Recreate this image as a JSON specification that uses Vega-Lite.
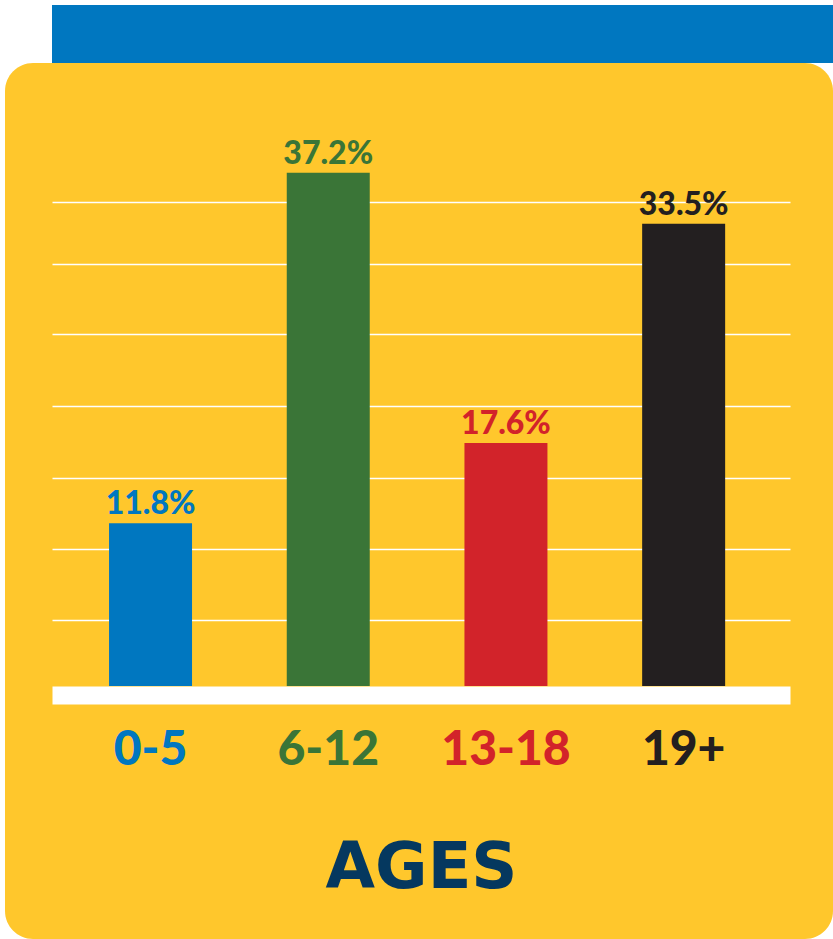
{
  "$schema": "https://vega.github.io/schema/vega-lite/v6.json",
  "autosize": "none",
  "width": 828,
  "height": 876,
  "padding": {"left": 5, "top": 63, "right": 0, "bottom": 0},
  "background": "white",
  "data": {
    "values": [
      {"age": "0-5", "share": 0.118},
      {"age": "6-12", "share": 0.372},
      {"age": "13-18", "share": 0.176},
      {"age": "19+", "share": 0.335}
    ]
  },
  "layer": [
    {
      "mark": {"type": "bar"},
      "encoding": {
        "x": {
          "field": "age",
          "type": "nominal",
          "sort": null,
          "scale": {"range": [47, 785], "paddingInner": 0.533, "paddingOuter": 0.343, "align": 0.468},
          "axis": {
            "orient": "bottom",
            "offset": -244,
            "domain": true,
            "domainColor": "white",
            "domainWidth": 18,
            "domainCap": "butt",
            "ticks": false,
            "tickSize": 0,
            "grid": false,
            "labelAngle": 0,
            "labelPadding": 31,
            "labelFont": "Lato",
            "labelFontSize": 48,
            "labelFontWeight": 900,
            "labelColor": {
              "condition": [
                {"test": "datum.value === '0-5'", "value": "#0077c0"},
                {"test": "datum.value === '6-12'", "value": "#3a7537"},
                {"test": "datum.value === '13-18'", "value": "#d2232a"}
              ],
              "value": "#231f20"
            },
            "title": "AGES",
            "titleFont": "DejaVu Sans",
            "titleFontSize": 64,
            "titleFontWeight": "bold",
            "titleColor": "#05385f",
            "titlePadding": 62
          }
        },
        "y": {
          "field": "share",
          "type": "quantitative",
          "scale": {"domain": [-0.18333, 0.45145], "nice": false, "zero": false},
          "axis": {
            "orient": "left",
            "grid": true,
            "values": [0.048, 0.099, 0.151, 0.203, 0.255, 0.306, 0.351],
            "gridColor": "white",
            "gridWidth": 1.5,
            "domain": false,
            "ticks": false,
            "labels": false,
            "title": null
          }
        },
        "color": {
          "field": "age",
          "type": "nominal",
          "scale": {"domain": ["0-5", "6-12", "13-18", "19+"], "range": ["#0077c0", "#3a7537", "#d2232a", "#231f20"]},
          "legend": null
        }
      }
    },
    {
      "mark": {"type": "text", "baseline": "alphabetic", "dy": -9, "font": "Lato", "fontSize": 32, "fontWeight": 900},
      "encoding": {
        "x": {
          "field": "age",
          "type": "nominal",
          "sort": null,
          "scale": {"range": [47, 785], "paddingInner": 0.533, "paddingOuter": 0.343, "align": 0.468},
          "axis": {
            "orient": "top",
            "offset": 58,
            "translate": 29,
            "domain": true,
            "domainColor": "#0077c0",
            "domainWidth": 58,
            "domainCap": "square",
            "ticks": false,
            "labels": false,
            "grid": false,
            "title": null
          }
        },
        "y": {
          "field": "share",
          "type": "quantitative",
          "scale": {"domain": [-0.18333, 0.45145], "nice": false, "zero": false},
          "axis": {
            "orient": "left",
            "grid": true,
            "values": [0.048, 0.099, 0.151, 0.203, 0.255, 0.306, 0.351],
            "gridColor": "white",
            "gridWidth": 1.5,
            "domain": false,
            "ticks": false,
            "labels": false,
            "title": null
          }
        },
        "text": {"field": "share", "type": "quantitative", "format": ".1%"},
        "color": {
          "field": "age",
          "type": "nominal",
          "scale": {"domain": ["0-5", "6-12", "13-18", "19+"], "range": ["#0077c0", "#3a7537", "#d2232a", "#231f20"]},
          "legend": null
        }
      }
    }
  ],
  "resolve": {"axis": {"x": "independent"}},
  "config": {
    "view": {"fill": "#ffc72c", "cornerRadius": 28, "stroke": null}
  }
}
